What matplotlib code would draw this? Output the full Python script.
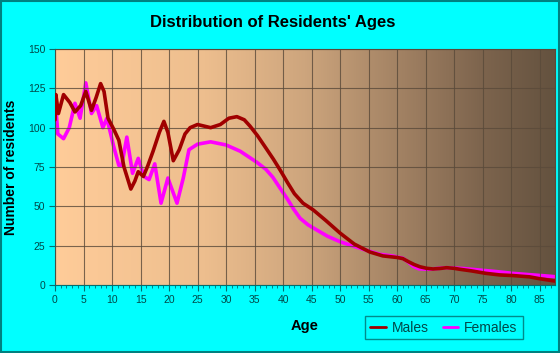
import numpy as np
import matplotlib
matplotlib.use("Agg")
import matplotlib.pyplot as plt
from matplotlib.colors import LinearSegmentedColormap

# values
male_age = [0.0, 0.15, 0.6, 1.5, 2.6, 3.5, 4.5, 5.4, 6.4, 7.2, 8.0, 8.6, 9.3,
            10.3, 11.2, 12.1, 13.3, 14.0, 14.6, 15.5, 16.3, 17.2, 18.3, 19.1,
            19.8, 20.75, 21.8, 22.8, 23.7, 25.0, 27.3, 29.0, 30.5, 31.9, 33.2,
            34.2, 35.5, 37.0, 38.3, 39.5, 40.8, 42.0, 43.5, 45.3, 47.5, 50.0,
            52.5, 55.2, 57.5, 60.0, 61.0, 62.0, 63.0, 64.0, 65.2, 66.3, 67.5,
            68.7, 70.0, 71.0, 73.0, 75.6, 78.0, 80.3, 83.2, 85.0, 87.7]
male_val = [105, 121, 109, 121, 116, 110, 114, 123, 111, 119, 128, 123, 106,
            99, 92, 75, 61, 66, 72, 69, 76, 85, 97, 104,
            97, 79, 86, 96, 100, 102, 100, 102, 106, 107, 105,
            101, 95, 87, 80, 73, 65, 58, 52, 47.7, 41, 33,
            26, 21, 18.5, 17.5, 16.8, 14.8, 13, 11.6, 10.6, 10.2, 10.5,
            11, 10.6, 10, 9, 7.4, 6.4, 6, 5.2, 4, 2.5]

female_age = [0.0, 0.2, 0.5, 1.5, 2.5, 3.5, 4.4, 5.4, 6.4, 7.3, 8.4, 9.1,
              10.3, 11.2, 11.7, 12.6, 13.6, 14.6, 15.6, 16.5, 17.5, 18.6,
              19.8, 21.4, 22.5, 23.5, 25.0, 27.3, 30.0, 32.5, 35.4, 37.0,
              38.2, 39.4, 40.7, 41.9, 43.0, 44.4, 45.9, 47.8, 50.0, 52.5,
              54.7, 57.0, 59.3, 61.0, 62.0, 62.8, 63.8, 65.5, 68.7, 71.5,
              74.5, 77.5, 80.3, 83.5, 87.7]
female_val = [97, 110, 96, 93, 100, 115.5, 106, 128.5, 109, 114, 100, 106,
              88, 76, 76, 94, 71, 80.5, 69, 67, 77, 52,
              68, 52, 68, 86, 89.5, 91, 89, 85, 78, 73.5,
              68.5, 62, 55, 48, 42.4, 38.2, 35, 31, 27.5, 24.5,
              22, 19.5, 18.4, 17, 14.5, 12, 10.3, 10, 11, 10.5,
              9.5, 8.5, 7.4, 6.5, 5.3]

x_ticks = list(range(0, 90, 5))
y_ticks = [0, 25, 50, 75, 100, 125, 150]

TEAL = "#007070"
TXT = "#004848"

fig = plt.figure(figsize=(5.6, 3.53), dpi=100, facecolor="#00FFFF")
ax = fig.add_axes([55 / 560, 1 - 285 / 353, 500 / 560, 236 / 353])

# horizontal gradient background
grad = LinearSegmentedColormap.from_list("bg", [
    (0.0, "#FFCC99"), (0.3, "#EDBE8E"), (0.5, "#CDA57D"),
    (0.7, "#A08062"), (0.85, "#7E654E"), (1.0, "#64523F")])
ax.imshow(np.linspace(0, 1, 256)[None, :], cmap=grad, aspect="auto",
          extent=[0, 1, 0, 1], transform=ax.transAxes, zorder=0)

ax.plot(male_age, male_val, color="#A00000", lw=2.6, zorder=3,
        solid_joinstyle="round", solid_capstyle="round", label="Males")
ax.plot(female_age, female_val, color="#FF00FF", lw=2.6, zorder=2,
        solid_joinstyle="round", solid_capstyle="round", label="Females")

ax.set_xlim(0, 87.7)
ax.set_ylim(0, 150)
ax.set_xticks(x_ticks)
ax.set_xticks(np.arange(0, 88, 1), minor=True)
ax.set_yticks(y_ticks)
ax.grid(True, which="major", color="#5a4a3a", lw=0.8, alpha=0.8, zorder=1)
ax.set_axisbelow(False)

ax.tick_params(axis="both", which="major", direction="out", length=4,
               color=TEAL, labelcolor=TXT, labelsize=7.5, pad=3)
ax.tick_params(axis="x", which="minor", direction="out", length=2.5, color=TEAL)
for lab in ax.get_xticklabels() + ax.get_yticklabels():
    lab.set_family("Liberation Sans")
for side in ["left", "bottom"]:
    ax.spines[side].set_color(TEAL)
for side in ["top", "right"]:
    ax.spines[side].set_color("#5a4a3a")

ax.set_xlabel("Age", fontsize=10.5, fontweight="bold", family="Liberation Sans",
              labelpad=10)
ax.set_ylabel("Number of residents", fontsize=10, fontweight="bold",
              family="Liberation Sans", labelpad=7)

fig.text(0.487, 0.935, "Distribution of Residents' Ages", ha="center",
         va="center", fontsize=12, fontweight="bold", family="Liberation Sans")

leg = fig.legend(loc="center", bbox_to_anchor=(444 / 560, 1 - 327.5 / 353),
                 ncol=2, frameon=True, fancybox=False,
                 handlelength=1.1, handletextpad=0.45, columnspacing=1.0,
                 borderpad=0.35, prop={"family": "Liberation Sans", "size": 10})
leg.get_frame().set_edgecolor(TEAL)
leg.get_frame().set_facecolor("#00FFFF")
leg.get_frame().set_linewidth(1.0)
for t in leg.get_texts():
    t.set_color(TXT)
for h in leg.get_lines():
    h.set_linewidth(2)

# figure border
fig.patches.append(plt.Rectangle((0.001, 0.002), 0.997, 0.996,
                                 transform=fig.transFigure, fill=False,
                                 edgecolor="#008080", lw=1.5))

fig.savefig("out.png", dpi=100, facecolor=fig.get_facecolor())
